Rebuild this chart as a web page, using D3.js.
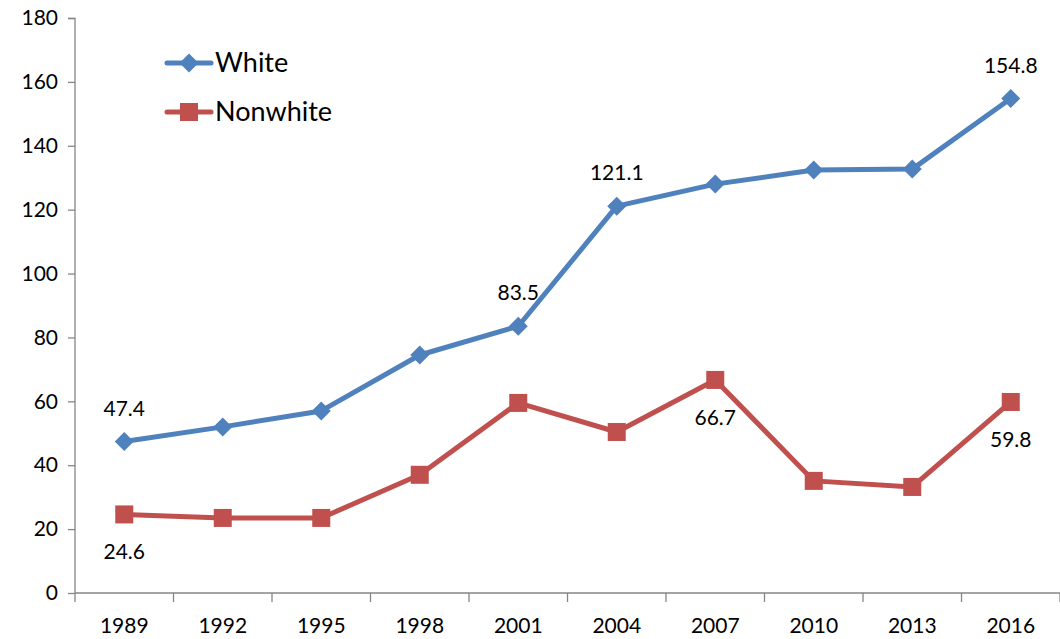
<!DOCTYPE html>
<html>
<head>
<meta charset="utf-8">
<script src="https://cdn.jsdelivr.net/npm/d3@7"></script>
<style>
  html, body { margin: 0; padding: 0; background: #fff; }
  svg { display: block; }
  text { font-family: Lato, "Open Sans", sans-serif; fill: #000; }
</style>
</head>
<body>
<svg id="chart" width="1060" height="639"></svg>
<script>
const years = ["1989","1992","1995","1998","2001","2004","2007","2010","2013","2016"];
const white = [47.4, 52.0, 57.0, 74.5, 83.5, 121.1, 128.0, 132.4, 132.7, 154.8];
const nonwhite = [24.6, 23.5, 23.5, 37.0, 59.5, 50.4, 66.7, 35.1, 33.2, 59.8];
const yTicks = [0, 20, 40, 60, 80, 100, 120, 140, 160, 180];
const whiteLabelIdx = [0, 4, 5, 9];
const nonwhiteLabelIdx = [0, 6, 9];

const svg = d3.select("#chart");
const x = d3.scaleBand().domain(years).range([75, 1060]);
const y = d3.scaleLinear().domain([0, 180]).range([593, 18]);
const axisColor = "#868686";

// Y axis
const yAxis = svg.append("g").attr("transform", "translate(75,0)")
  .call(d3.axisLeft(y).tickValues(yTicks).tickSize(7).tickPadding(10));
yAxis.select(".domain").attr("stroke", axisColor).attr("stroke-width", 1.3).attr("d", "M-7,18.5H0V593");
yAxis.selectAll(".tick line").attr("stroke", axisColor).attr("stroke-width", 1.3);
yAxis.selectAll(".tick text").style("font-size", "21px").style("font-family", "Lato");

// X axis
const xAxisG = svg.append("g").attr("transform", "translate(0,593)");
xAxisG.append("line").attr("x1", 75).attr("x2", 1060).attr("y1", 0).attr("y2", 0)
  .attr("stroke", axisColor).attr("stroke-width", 1.3);
const boundaries = years.map(d => x(d)).concat([x.range()[1]]);
xAxisG.selectAll("line.tk").data(boundaries).enter().append("line").attr("class", "tk")
  .attr("x1", d => d).attr("x2", d => d).attr("y1", 0).attr("y2", 9)
  .attr("stroke", axisColor).attr("stroke-width", 1.3);
xAxisG.selectAll("text").data(years).enter().append("text")
  .attr("x", d => x(d) + x.bandwidth() / 2).attr("y", 40)
  .attr("text-anchor", "middle").style("font-size", "21px").text(d => d);

const cx = d => x(d) + x.bandwidth() / 2;
const line = d3.line().x((d, i) => cx(years[i])).y(d => y(d));

const blue = "#4F81BD", red = "#C0504D";

svg.append("path").datum(white).attr("d", line).attr("fill", "none")
  .attr("stroke", blue).attr("stroke-width", 5).attr("stroke-linejoin", "round").attr("stroke-linecap", "round");
svg.append("path").datum(nonwhite).attr("d", line).attr("fill", "none")
  .attr("stroke", red).attr("stroke-width", 5).attr("stroke-linejoin", "round").attr("stroke-linecap", "round");

const diamond = d3.symbol().type(d3.symbolSquare).size(180)();
svg.selectAll("path.wm").data(white).enter().append("path").attr("class", "wm")
  .attr("d", diamond).attr("fill", blue)
  .attr("transform", (d, i) => `translate(${cx(years[i])},${y(d)}) rotate(45)`);
svg.selectAll("rect.nm").data(nonwhite).enter().append("rect").attr("class", "nm")
  .attr("x", (d, i) => cx(years[i]) - 9).attr("y", d => y(d) - 9)
  .attr("width", 18).attr("height", 18).attr("fill", red);

// data labels
svg.selectAll("text.wl").data(whiteLabelIdx).enter().append("text").attr("class", "wl")
  .attr("x", i => cx(years[i])).attr("y", i => y(white[i]) - 26)
  .attr("text-anchor", "middle").style("font-size", "21px").text(i => white[i].toFixed(1));
svg.selectAll("text.nl").data(nonwhiteLabelIdx).enter().append("text").attr("class", "nl")
  .attr("x", i => cx(years[i])).attr("y", i => y(nonwhite[i]) + 45)
  .attr("text-anchor", "middle").style("font-size", "21px").text(i => nonwhite[i].toFixed(1));

// legend
const legend = [{name: "White", color: blue, shape: "diamond", y: 63},
                {name: "Nonwhite", color: red, shape: "square", y: 112}];
const lg = svg.append("g");
legend.forEach(l => {
  lg.append("line").attr("x1", 167).attr("x2", 211).attr("y1", l.y).attr("y2", l.y)
    .attr("stroke", l.color).attr("stroke-width", 5).attr("stroke-linecap", "round");
  if (l.shape === "diamond") {
    lg.append("path").attr("d", diamond).attr("fill", l.color)
      .attr("transform", `translate(189,${l.y}) rotate(45)`);
  } else {
    lg.append("rect").attr("x", 180).attr("y", l.y - 9).attr("width", 18).attr("height", 18).attr("fill", l.color);
  }
  lg.append("text").attr("x", 215).attr("y", l.y + 9).style("font-size", "27px").text(l.name);
});
</script>
</body>
</html>
